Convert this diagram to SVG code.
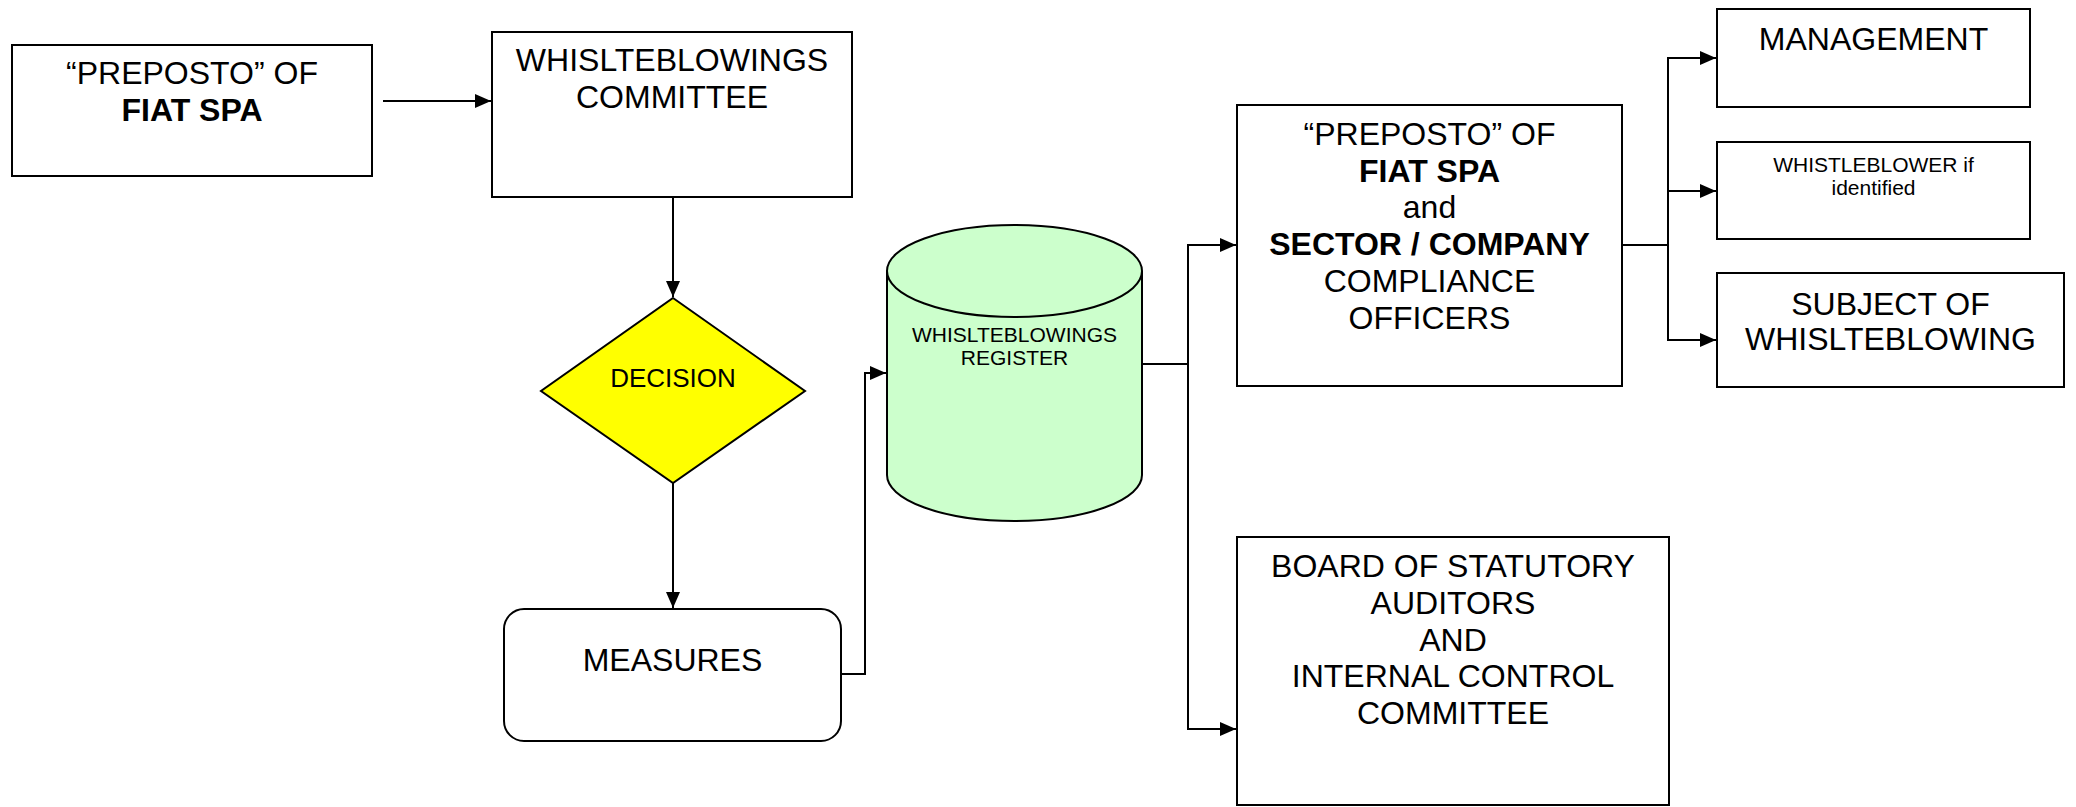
<svg xmlns="http://www.w3.org/2000/svg" width="2076" height="807" viewBox="0 0 2076 807">
<style>
.box{fill:#ffffff;stroke:#000000;stroke-width:2}
.t{font-family:"Liberation Sans",Arial,sans-serif;font-size:32px;fill:#000000;text-anchor:middle}
.s{font-size:21px}
.b{font-weight:bold}
.c{fill:none;stroke:#000000;stroke-width:2}
</style>
<defs>
<marker id="arr" markerUnits="userSpaceOnUse" markerWidth="17" markerHeight="15" refX="16" refY="7" orient="auto">
<path d="M0,0 L16,7 L0,14 Z" fill="#000000"/>
</marker>
</defs>
<rect width="2076" height="807" fill="#ffffff"/>
<g id="connectors">
<path class="c" d="M383,101 H491" marker-end="url(#arr)"/>
<path class="c" d="M673,197 V297" marker-end="url(#arr)"/>
<path class="c" d="M673,483 V608" marker-end="url(#arr)"/>
<path class="c" d="M841,674 H865 V373 H886" marker-end="url(#arr)"/>
<path class="c" d="M1142,364 H1188 V245 H1236" marker-end="url(#arr)"/>
<path class="c" d="M1188,364 V729 H1236" marker-end="url(#arr)"/>
<path class="c" d="M1622,245 H1668 V58 H1716" marker-end="url(#arr)"/>
<path class="c" d="M1668,191 H1716" marker-end="url(#arr)"/>
<path class="c" d="M1668,245 V340 H1716" marker-end="url(#arr)"/>
</g>
<g id="preposto">
<rect class="box" x="12" y="45" width="360" height="131"/>
<text class="t" x="192" y="84">“PREPOSTO” OF</text>
<text class="t b" x="192" y="121">FIAT SPA</text>
</g>
<g id="committee">
<rect class="box" x="492" y="32" width="360" height="165"/>
<text class="t" x="672" y="71">WHISLTEBLOWINGS</text>
<text class="t" x="672" y="108">COMMITTEE</text>
</g>
<g id="decision">
<polygon points="673,298 805,391 673,483 541,391" fill="#ffff00" stroke="#000000" stroke-width="2"/>
<text class="t" x="673" y="387" style="font-size:26px">DECISION</text>
</g>
<g id="measures">
<rect class="box" x="504" y="609" width="337" height="132" rx="20" ry="20"/>
<text class="t" x="672.5" y="671">MEASURES</text>
</g>
<g id="register">
<path d="M887,271 A127.5,46 0 0 1 1142,271 V475 A127.5,46 0 0 1 887,475 Z" fill="#ccffcc" stroke="#000000" stroke-width="2"/>
<path d="M887,271 A127.5,46 0 0 0 1142,271" fill="none" stroke="#000000" stroke-width="2"/>
<text class="t s" x="1014.5" y="342">WHISLTEBLOWINGS</text>
<text class="t s" x="1014.5" y="365">REGISTER</text>
</g>
<g id="compliance">
<rect class="box" x="1237" y="105" width="385" height="281"/>
<text class="t" x="1429.5" y="145">“PREPOSTO” OF</text>
<text class="t b" x="1429.5" y="182">FIAT SPA</text>
<text class="t" x="1429.5" y="218">and</text>
<text class="t b" x="1429.5" y="255">SECTOR / COMPANY</text>
<text class="t" x="1429.5" y="292">COMPLIANCE</text>
<text class="t" x="1429.5" y="329">OFFICERS</text>
</g>
<g id="board">
<rect class="box" x="1237" y="537" width="432" height="268"/>
<text class="t" x="1453" y="577">BOARD OF STATUTORY</text>
<text class="t" x="1453" y="614">AUDITORS</text>
<text class="t" x="1453" y="651">AND</text>
<text class="t" x="1453" y="687">INTERNAL CONTROL</text>
<text class="t" x="1453" y="724">COMMITTEE</text>
</g>
<g id="management">
<rect class="box" x="1717" y="9" width="313" height="98"/>
<text class="t" x="1873.5" y="50">MANAGEMENT</text>
</g>
<g id="whistleblower">
<rect class="box" x="1717" y="142" width="313" height="97"/>
<text class="t s" x="1873.5" y="172">WHISTLEBLOWER if</text>
<text class="t s" x="1873.5" y="195">identified</text>
</g>
<g id="subject">
<rect class="box" x="1717" y="273" width="347" height="114"/>
<text class="t" x="1890.5" y="315">SUBJECT OF</text>
<text class="t" x="1890.5" y="350">WHISLTEBLOWING</text>
</g>
</svg>
